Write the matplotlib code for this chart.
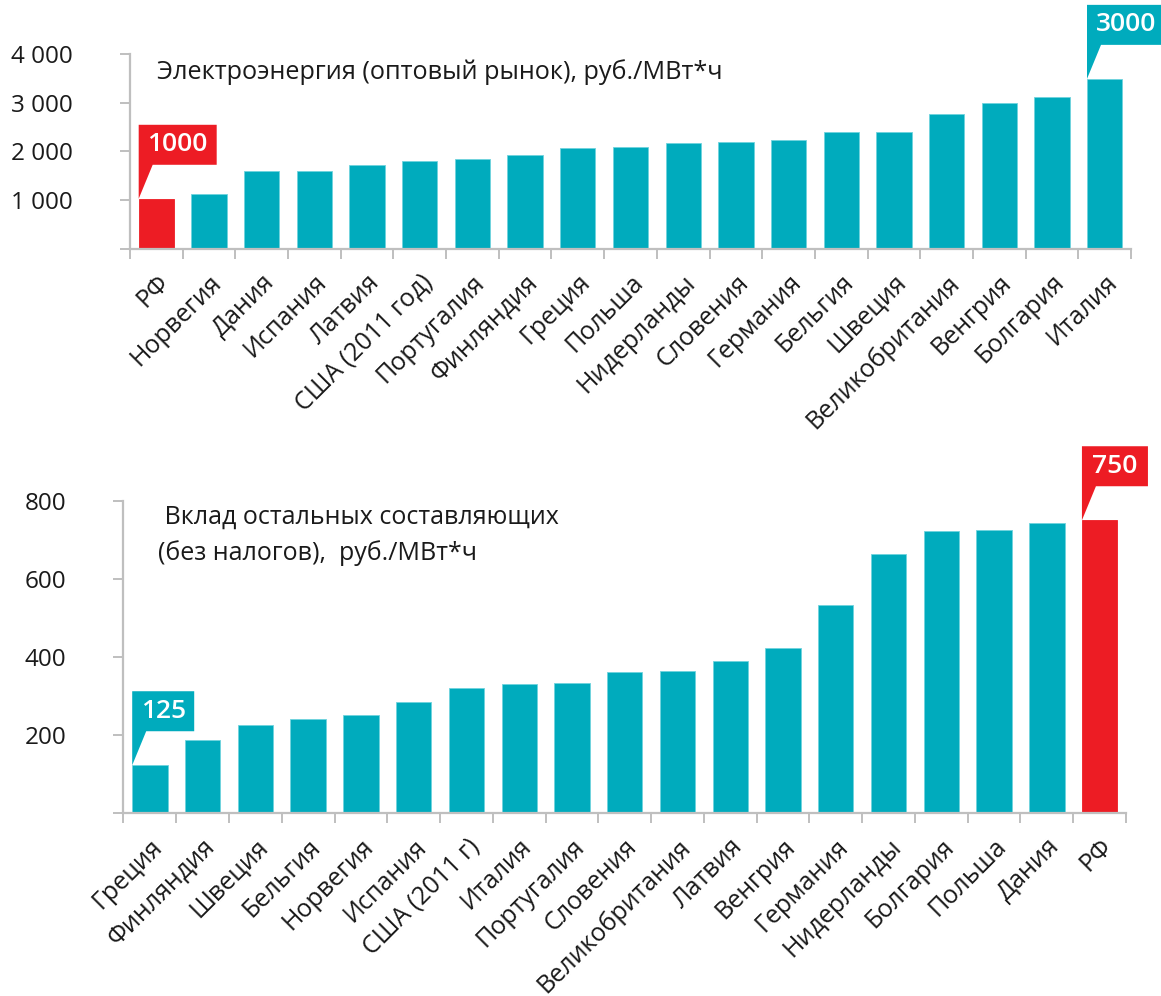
import matplotlib
matplotlib.use('Agg')
import matplotlib.pyplot as plt
import matplotlib.transforms as mtransforms
from matplotlib.patches import Polygon

plt.rcParams['font.family'] = ['Open Sans', 'DejaVu Sans']

# ---------------- data ----------------
top_title = 'Электроэнергия (оптовый рынок), руб./МВт*ч'
top_categories = ['РФ', 'Норвегия', 'Дания', 'Испания', 'Латвия', 'США (2011 год)',
                  'Португалия', 'Финляндия', 'Греция', 'Польша', 'Нидерланды', 'Словения',
                  'Германия', 'Бельгия', 'Швеция', 'Великобритания', 'Венгрия', 'Болгария',
                  'Италия']
top_values = [1030, 1130, 1590, 1600, 1720, 1800, 1850, 1930, 2070, 2090, 2170, 2190,
              2230, 2390, 2410, 2760, 3000, 3110, 3490]
top_ticks = [0, 1000, 2000, 3000, 4000]
top_ticklabels = ['', '1 000', '2 000', '3 000', '4 000']
top_highlight = 'РФ'
top_callouts = [('РФ', '1000'), ('Италия', '3000')]

bottom_title_1 = ' Вклад остальных составляющих'
bottom_title_2 = '(без налогов),  руб./МВт*ч'
bottom_categories = ['Греция', 'Финляндия', 'Швеция', 'Бельгия', 'Норвегия', 'Испания',
                     'США (2011 г)', 'Италия', 'Португалия', 'Словения', 'Великобритания',
                     'Латвия', 'Венгрия', 'Германия', 'Нидерланды', 'Болгария', 'Польша',
                     'Дания', 'РФ']
bottom_values = [123, 187, 226, 242, 251, 284, 321, 331, 334, 361, 364, 390, 422, 534,
                 663, 722, 725, 742, 750]
bottom_ticks = [0, 200, 400, 600, 800]
bottom_ticklabels = ['', '200', '400', '600', '800']
bottom_highlight = 'РФ'
bottom_callouts = [('Греция', '125'), ('РФ', '750')]

# ---------------- style ----------------
TEAL = '#00abbd'
TEAL_EDGE = '#6fd3de'
RED = '#ed1c24'
GRAY = '#bfbfbf'
TXT = '#1a1a1a'
W, H = 1161, 996
DPI = 100
BAR_W = 0.67

fig = plt.figure(figsize=(W / DPI, H / DPI), dpi=DPI)


def px_axes(l, r, t, b):
    return fig.add_axes([l / W, 1 - b / H, (r - l) / W, (b - t) / H])


def style_axes(ax, cats, vals, ticks, ticklabels, highlight):
    n = len(cats)
    x = list(range(n))
    colors = [RED if c == highlight else TEAL for c in cats]
    edges = [RED if c == highlight else TEAL_EDGE for c in cats]
    ax.bar(x, vals, width=BAR_W, color=colors, edgecolor=edges, linewidth=0.6, zorder=2)
    ax.set_xlim(-0.5, n - 0.5)
    ax.set_ylim(ticks[0], ticks[-1])
    for s in ['top', 'right']:
        ax.spines[s].set_visible(False)
    for s in ['left', 'bottom']:
        ax.spines[s].set_color(GRAY)
        ax.spines[s].set_linewidth(1.6)
    ax.set_yticks(ticks)
    ax.set_yticklabels(ticklabels)
    ax.tick_params(axis='y', direction='out', length=7, width=1.4, color=GRAY,
                   pad=34, labelsize=17.5, labelcolor=TXT)
    ax.set_xticks(x)
    ax.set_xticklabels(cats, rotation=45, ha='right', rotation_mode='anchor')
    ax.tick_params(axis='x', which='major', length=0, pad=15, labelsize=18,
                   labelcolor=TXT)
    ax.set_xticks([i - 0.5 for i in range(n + 1)], minor=True)
    ax.tick_params(axis='x', which='minor', direction='out', length=7, width=1.4,
                   color=GRAY)
    return x


def callout(ax, xi, val, label, color, box_w):
    # shape in pixels relative to the top-left corner of the bar
    gap, bh, tw = 34, 40, 14
    verts = [(0, 0), (tw, gap), (box_w, gap), (box_w, gap + bh), (0, gap + bh), (0, gap)]
    tr = mtransforms.Affine2D().scale(fig.dpi / DPI) + \
        mtransforms.ScaledTranslation(xi - BAR_W / 2, val, ax.transData)
    poly = Polygon(verts, closed=True, facecolor=color, edgecolor='none',
                   transform=tr, clip_on=False, zorder=5)
    ax.add_artist(poly)
    ax.text(box_w / 2, gap + bh / 2, label, transform=tr, ha='center', va='center',
            color='white', fontsize=19, fontweight='semibold', zorder=6, clip_on=False)


# top chart
ax1 = px_axes(130, 1131, 54, 249)
xs = style_axes(ax1, top_categories, top_values, top_ticks, top_ticklabels, top_highlight)
for cat, lab in top_callouts:
    i = top_categories.index(cat)
    col = RED if cat == top_highlight else TEAL
    callout(ax1, xs[i], top_values[i], lab, col, 78)

fig.text(157 / W, 1 - 72 / H, top_title, ha='left', va='center', fontsize=18.2, color=TXT)

# bottom chart
ax2 = px_axes(123.5, 1126, 500.7, 813.3)
xs = style_axes(ax2, bottom_categories, bottom_values, bottom_ticks, bottom_ticklabels,
                bottom_highlight)
for cat, lab in bottom_callouts:
    i = bottom_categories.index(cat)
    col = RED if cat == bottom_highlight else TEAL
    callout(ax2, xs[i], bottom_values[i], lab, col, 62 if lab == '125' else 66)

fig.text(158 / W, 1 - 517 / H, bottom_title_1, ha='left', va='center', fontsize=18,
         color=TXT)
fig.text(158 / W, 1 - 553 / H, bottom_title_2, ha='left', va='center', fontsize=18,
         color=TXT)

fig.savefig('out.png', dpi=DPI)
